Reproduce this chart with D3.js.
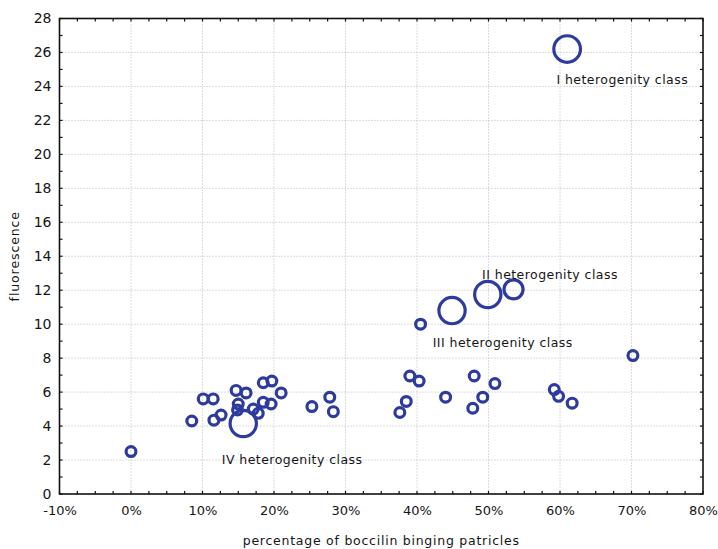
<!DOCTYPE html>
<html>
<head>
<meta charset="utf-8">
<script src="https://cdn.jsdelivr.net/npm/d3@7/dist/d3.min.js"></script>
<style>
  html, body { margin: 0; padding: 0; background: #fff; }
  svg { display: block; }
  text { font-family: "DejaVu Sans", sans-serif; fill: #151515; }
</style>
</head>
<body>
<svg id="chart" width="718" height="549"></svg>
<script>
// Percentage of boccilin binding particles (x), fluorescence (y), cluster weight (bubble size)
const pctBinding = [
  0.0, 8.5, 10.1, 11.5, 11.6, 12.6, 14.7, 16.1, 15.0, 14.9, 17.1, 17.8, 18.5, 19.7, 18.5, 19.6, 21.0,
  25.3, 27.8, 28.3,
  39.0, 40.3, 38.5, 37.6, 44.0, 48.0, 50.9, 49.2, 47.8,
  59.2, 59.8, 61.7, 70.2, 40.5,
  15.7, 44.9, 49.9, 53.5, 61.0
];
const fluorescence = [
  2.5, 4.3, 5.6, 5.6, 4.35, 4.65, 6.1, 5.95, 5.3, 4.95, 5.0, 4.75, 6.55, 6.65, 5.4, 5.3, 5.95,
  5.15, 5.7, 4.85,
  6.95, 6.65, 5.45, 4.8, 5.7, 6.95, 6.5, 5.7, 5.05,
  6.15, 5.75, 5.35, 8.15, 10.0,
  4.15, 10.8, 11.75, 12.05, 26.2
];
const clusterWeight = [
  1, 1, 1, 1, 1, 1, 1, 1, 1, 1, 1, 1, 1, 1, 1, 1, 1,
  1, 1, 1,
  1, 1, 1, 1, 1, 1, 1, 1, 1,
  1, 1, 1, 1, 1,
  7.2, 7.2, 7.2, 3.8, 7.4
];

// Axis ticks
const xMajorTicks = [-10, 0, 10, 20, 30, 40, 50, 60, 70, 80];
const yMajorTicks = [0, 2, 4, 6, 8, 10, 12, 14, 16, 18, 20, 22, 24, 26, 28];

// Class annotations, anchored in data units (left edge, vertical centre)
const classLabels = ["I heterogenity class", "II heterogenity class", "III heterogenity class", "IV heterogenity class"];
const classLabelX = [59.5, 49.1, 42.2, 12.7];
const classLabelY = [24.4, 12.95, 8.95, 2.05];

const svg = d3.select("#chart");
const W = 718, H = 549;
const margin = { top: 18.5, right: 15, bottom: 55, left: 59.5 };
const innerW = W - margin.left - margin.right;
const innerH = H - margin.top - margin.bottom;

const x = d3.scaleLinear().domain([-10, 80]).range([0, innerW]);
const y = d3.scaleLinear().domain([0, 28]).range([innerH, 0]);
const r = d3.scaleSqrt().domain([0, 1]).range([0, 4.9]);

const g = svg.append("g").attr("transform", `translate(${margin.left},${margin.top})`);

// Dotted grid at the major ticks
g.append("g").selectAll("line")
  .data(xMajorTicks.slice(1, -1)).join("line")
  .attr("x1", d => x(d)).attr("x2", d => x(d))
  .attr("y1", 0).attr("y2", innerH)
  .attr("stroke", "#b8b8b8").attr("stroke-width", 1).attr("stroke-dasharray", "1,2");
g.append("g").selectAll("line")
  .data(yMajorTicks.slice(1, -1)).join("line")
  .attr("x1", 0).attr("x2", innerW)
  .attr("y1", d => y(d)).attr("y2", d => y(d))
  .attr("stroke", "#b8b8b8").attr("stroke-width", 1).attr("stroke-dasharray", "1,2");

// Axes: labelled bottom/left, plus inward minor ticks on all four sides
const xMinor = d3.range(-10, 80.01, 2.5);
const yMinor = d3.range(0, 28.01, 1);
const tickLen = 3;

const bottomAxis = d3.axisBottom(x).tickValues(xMajorTicks).tickFormat(d => d + "%").tickSize(0).tickPadding(12);
const leftAxis = d3.axisLeft(y).tickValues(yMajorTicks).tickSize(0).tickPadding(8);

const gx = g.append("g").attr("transform", `translate(0,${innerH})`).call(bottomAxis);
gx.select(".domain").remove();
gx.selectAll("text").style("font-size", "13px").style("font-family", "DejaVu Sans, sans-serif").attr("fill", "#151515");

const gy = g.append("g").call(leftAxis);
gy.select(".domain").remove();
gy.selectAll("text").style("font-size", "14px").style("font-family", "DejaVu Sans, sans-serif").attr("fill", "#151515");

const tickG = g.append("g").attr("stroke", "#111").attr("stroke-width", 1.2);
tickG.selectAll(".tb").data(xMinor).join("line").attr("class", "tb")
  .attr("x1", d => x(d)).attr("x2", d => x(d)).attr("y1", innerH).attr("y2", innerH - tickLen);
tickG.selectAll(".tt").data(xMinor).join("line").attr("class", "tt")
  .attr("x1", d => x(d)).attr("x2", d => x(d)).attr("y1", 0).attr("y2", tickLen);
tickG.selectAll(".tl").data(yMinor).join("line").attr("class", "tl")
  .attr("x1", 0).attr("x2", tickLen).attr("y1", d => y(d)).attr("y2", d => y(d));
tickG.selectAll(".tr").data(yMinor).join("line").attr("class", "tr")
  .attr("x1", innerW).attr("x2", innerW - tickLen).attr("y1", d => y(d)).attr("y2", d => y(d));

// Frame
g.append("rect").attr("x", 0).attr("y", 0).attr("width", innerW).attr("height", innerH)
  .attr("fill", "none").attr("stroke", "#111").attr("stroke-width", 1.6);

// Bubbles
const points = pctBinding.map((p, i) => ({ p, f: fluorescence[i], w: clusterWeight[i] }));
g.append("g").selectAll("circle").data(points).join("circle")
  .attr("cx", d => x(d.p)).attr("cy", d => y(d.f)).attr("r", d => r(d.w))
  .attr("fill", "none").attr("stroke", "#2e3b9e").attr("stroke-width", 3.2);

// Class annotations
g.append("g").selectAll("text").data(classLabels).join("text")
  .attr("x", (d, i) => x(classLabelX[i])).attr("y", (d, i) => y(classLabelY[i]))
  .attr("dominant-baseline", "central")
  .style("font-size", "12.5px")
  .style("letter-spacing", "0.45px")
  .text(d => d);

// Axis titles
svg.append("text")
  .attr("x", margin.left + innerW / 2).attr("y", 545)
  .attr("text-anchor", "middle").style("font-size", "12.5px")
  .style("letter-spacing", "0.75px")
  .text("percentage of boccilin binging patricles");
svg.append("text")
  .attr("transform", `translate(19,${margin.top + innerH / 2}) rotate(-90)`)
  .attr("text-anchor", "middle").style("font-size", "12.5px")
  .style("letter-spacing", "0.9px")
  .text("fluorescence");
</script>
</body>
</html>
